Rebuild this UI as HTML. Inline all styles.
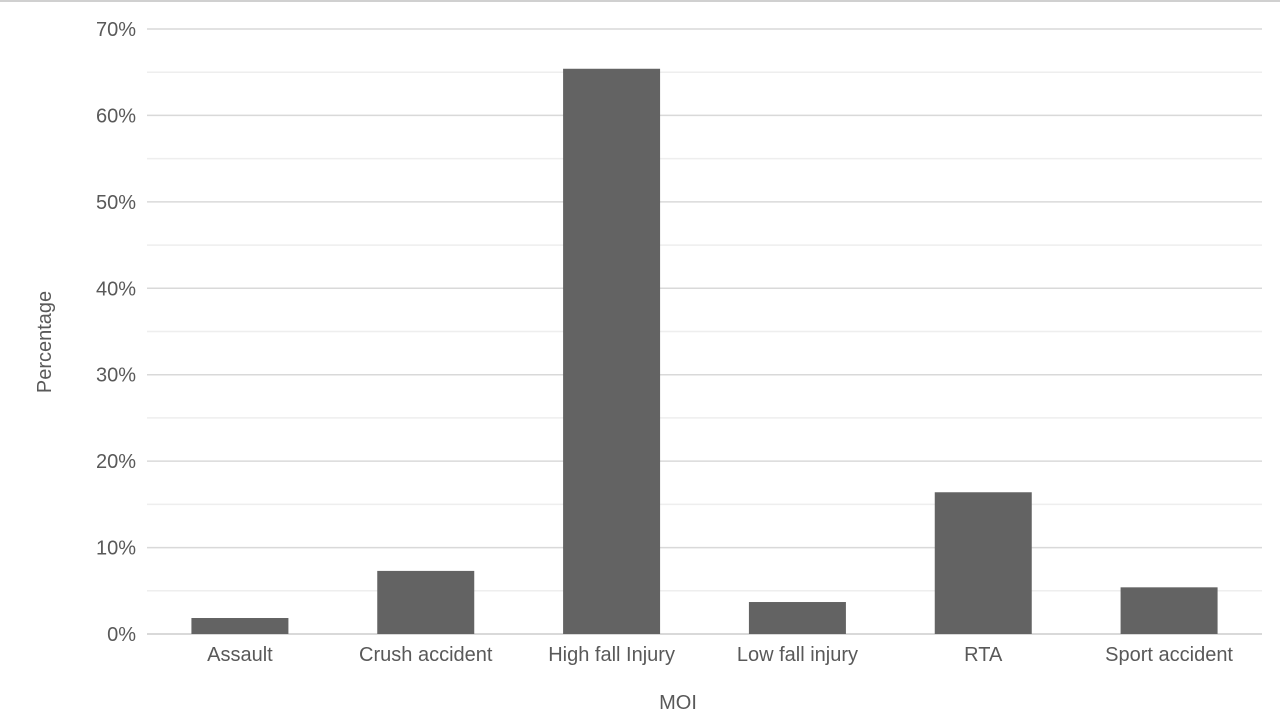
<!DOCTYPE html>
<html><head><meta charset="utf-8"><style>
body{margin:0;background:#fff;}
svg text{font-family:"Liberation Sans",sans-serif;fill:#595959;}
</style></head><body>
<svg width="1280" height="710" xmlns="http://www.w3.org/2000/svg">
<line x1="0" y1="1" x2="1280" y2="1" stroke="#d0d0d0" stroke-width="2"/>
<g id="grid"></g><g id="bars"></g><g id="labels"></g>
<text transform="translate(51,342) rotate(-90)" text-anchor="middle" font-size="20">Percentage</text>
<text x="678" y="709" text-anchor="middle" font-size="20">MOI</text>
</svg>
<script>
const categories=["Assault","Crush accident","High fall Injury","Low fall injury","RTA","Sport accident"];
const values=[1.85,7.3,65.4,3.7,16.4,5.4];
const yTicks=[0,10,20,30,40,50,60,70];
const NS="http://www.w3.org/2000/svg";
const x0=147,x1=1262,y0=634,yTop=29,yMax=70;
const y=v=>y0-(v/yMax)*(y0-yTop);
const band=(x1-x0)/categories.length;
function mk(t,a,p){const e=document.createElementNS(NS,t);for(const k in a)e.setAttribute(k,a[k]);p.appendChild(e);return e;}
const g=document.getElementById('grid'),b=document.getElementById('bars'),l=document.getElementById('labels');
for(let v=0;v<=yMax;v+=5){
 const ln=mk('line',{x1:x0,x2:x1,y1:y(v),y2:y(v),stroke:v%10===0?'#d9d9d9':'#eeeeee','stroke-width':v===0?2:1.5},g);
 
 
}
yTicks.forEach(v=>{
 const t=mk('text',{x:136,y:y(v)+7,'text-anchor':'end','font-size':20},l);t.textContent=v+'%';
 
 
});
categories.forEach((c,i)=>{
 const cx=x0+band*(i+0.5),w=97;
 const r=mk('rect',{x:cx-w/2,y:y(values[i]),width:w,height:y0-y(values[i]),fill:'#636363'},b);
 
 
 const t=mk('text',{x:cx,y:661,'text-anchor':'middle','font-size':20},l);t.textContent=c;
 
 
});
</script>
</body></html>
